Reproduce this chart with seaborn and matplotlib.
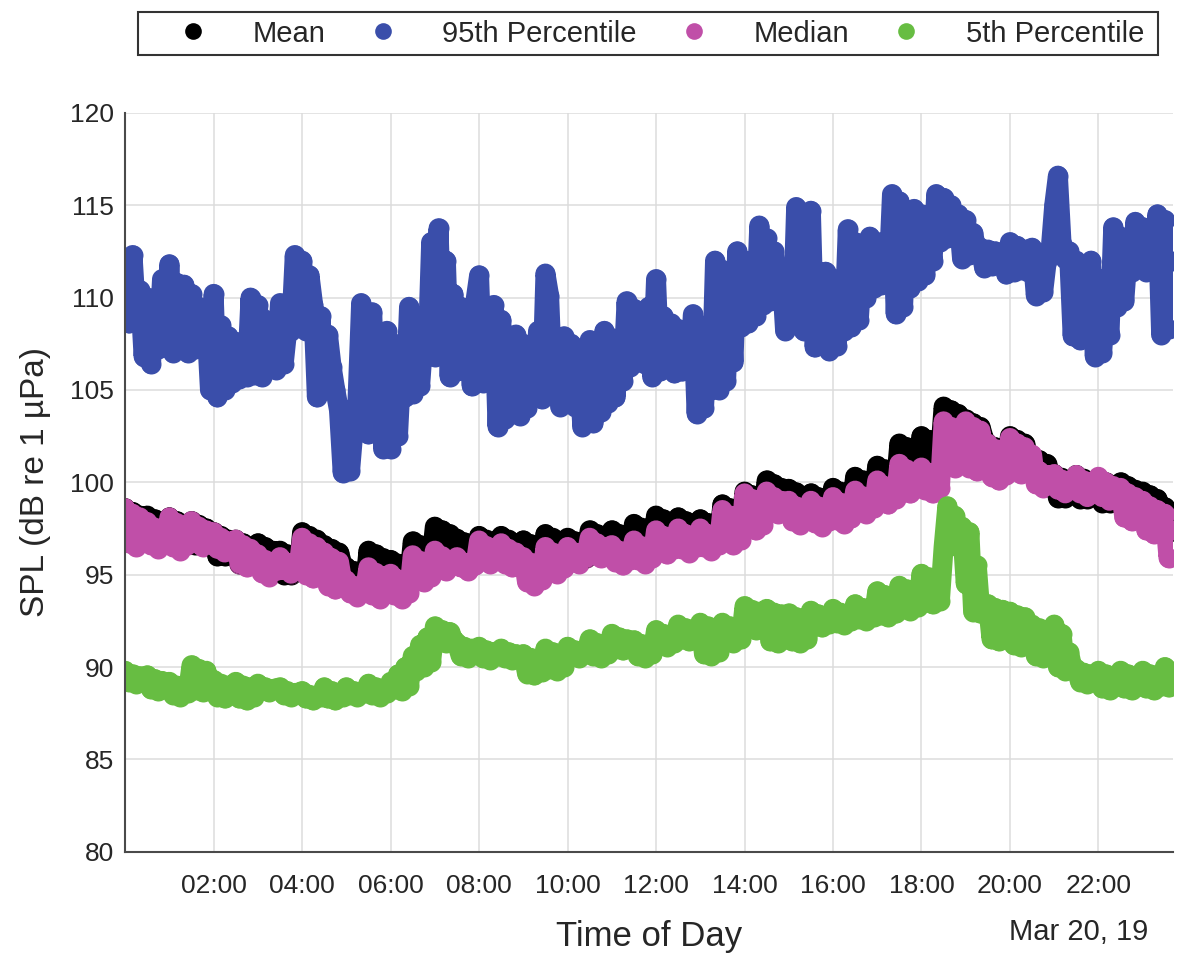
import pandas as pd
import seaborn as sns
import matplotlib.pyplot as plt
import matplotlib.dates as mdates
from matplotlib.lines import Line2D
from matplotlib.patches import Rectangle

# SPL statistics (dB re 1 uPa), 5-minute steps from 00:00 to 23:40, Mar 20 2019
# one row per hour
p95_spl = [
    112.0, 108.6, 112.3, 109.0, 110.4, 106.8, 110.0, 106.4, 109.2, 107.2, 111.0, 107.4,
    111.8, 107.0, 110.8, 107.5, 110.7, 107.0, 110.2, 107.2, 109.5, 107.6, 108.75, 105.0,
    110.2, 104.6, 108.5, 105.0, 107.9, 105.4, 107.6, 105.6, 107.2, 105.7, 110.0, 105.8,
    109.6, 105.7, 108.8, 106.2, 108.6, 106.1, 109.7, 106.4, 108.3, 108.2, 112.3, 108.4,
    112.0, 108.2, 111.2, 109.6, 104.6, 109.0, 105.0, 108.0, 106.25, 105.0, 103.9, 100.5,
    103.9, 100.6, 103.0, 104.3, 109.7, 104.5, 102.6, 109.2, 104.3, 108.0, 101.8, 108.2,
    101.8, 107.5, 102.5, 106.5, 104.6, 109.5, 104.8, 109.0, 105.2, 108.0, 106.8, 113.0,
    106.8, 113.75, 107.5, 112.0, 105.7, 110.2, 106.0, 109.5, 106.5, 108.5, 105.2, 109.8,
    111.2, 105.4, 109.0, 106.0, 109.6, 103.0, 108.8, 103.4, 107.5, 104.5, 108.0, 103.6,
    107.5, 104.0, 106.8, 104.8, 108.2, 104.5, 111.3, 110.1, 105.0, 107.5, 104.1, 107.9,
    104.5, 107.5, 104.1, 106.5, 103.0, 106.25, 107.7, 103.2, 105.8, 103.8, 108.2, 104.3,
    107.8, 104.6, 107.0, 105.5, 109.8, 106.25, 109.4, 106.5, 108.8, 106.4, 109.5, 105.7,
    111.0, 106.0, 109.0, 106.5, 108.6, 105.9, 108.3, 106.0, 108.0, 106.3, 109.1, 103.7,
    108.5, 104.0, 107.8, 105.0, 112.0, 105.0, 111.5, 105.5, 110.5, 106.5, 112.5, 108.4,
    112.0, 108.6, 111.5, 109.0, 113.9, 109.6, 113.2, 109.8, 112.5, 110.0, 111.5, 108.2,
    110.7, 108.5, 114.9, 110.0, 108.2, 110.2, 114.7, 107.3, 110.0, 107.5, 111.4, 107.1,
    111.0, 107.4, 110.5, 108.2, 113.7, 108.4, 113.0, 108.8, 112.0, 110.0, 113.3, 110.5,
    113.0, 110.7, 112.5, 111.0, 115.6, 109.1, 115.2, 109.5, 114.0, 110.5, 114.8, 110.9,
    114.5, 111.2, 113.8, 112.0, 115.6, 113.0, 115.4, 113.2, 115.0, 113.5, 114.5, 112.1,
    114.2, 112.3, 113.5, 112.5, 112.7, 111.6, 112.6, 111.7, 112.5, 111.8, 112.4, 111.25,
    113.0, 111.4, 112.8, 111.5, 112.6, 111.4, 112.7, 110.1, 112.3, 110.3, 112.0, 112.5,
    115.0, 116.6, 112.9, 112.1, 112.5, 107.9, 112.0, 107.7, 111.0, 108.5, 112.0, 106.8,
    111.0, 107.0, 110.0, 108.0, 113.8, 109.5, 113.3, 109.8, 112.5, 111.4, 114.1, 111.6,
    113.8, 111.4, 113.5, 112.0, 114.5, 108.0, 114.2, 108.3, 112.0,
]

mean_spl = [
    98.6, 97.3, 98.4, 97.3, 98.2, 97.5, 98.2, 96.9, 98.0, 96.9, 97.8, 97.1,
    98.1, 96.8, 97.9, 96.8, 97.7, 97.0, 97.9, 96.6, 97.7, 96.6, 97.5, 96.8,
    97.3, 96.0, 97.1, 96.0, 96.9, 96.2, 96.9, 95.6, 96.7, 95.6, 96.5, 95.8,
    96.7, 95.4, 96.5, 95.4, 96.3, 95.6, 96.3, 95.0, 96.1, 95.0, 95.9, 95.2,
    97.3, 96.0, 97.1, 96.0, 96.9, 96.2, 96.6, 95.3, 96.4, 95.3, 96.2, 95.5,
    95.4, 94.1, 95.2, 94.1, 95.0, 94.3, 96.3, 95.0, 96.1, 95.0, 95.9, 95.2,
    95.8, 94.5, 95.6, 94.5, 95.4, 94.7, 96.8, 95.5, 96.6, 95.5, 96.4, 95.7,
    97.6, 96.3, 97.4, 96.3, 97.2, 96.5, 96.95, 95.65, 96.75, 95.65, 96.55, 95.85,
    97.1, 95.8, 96.9, 95.8, 96.7, 96.0, 97.1, 95.8, 96.9, 95.8, 96.7, 96.0,
    96.85, 95.55, 96.65, 95.55, 96.45, 95.75, 97.2, 95.9, 97.0, 95.9, 96.8, 96.1,
    97.0, 95.7, 96.8, 95.7, 96.6, 95.9, 97.4, 96.1, 97.2, 96.1, 97.0, 96.3,
    97.4, 96.1, 97.2, 96.1, 97.0, 96.3, 97.75, 96.45, 97.55, 96.45, 97.35, 96.65,
    98.2, 96.9, 98.0, 96.9, 97.8, 97.1, 98.1, 96.8, 97.9, 96.8, 97.7, 97.0,
    98.0, 96.7, 97.8, 96.7, 97.6, 96.9, 98.8, 97.5, 98.6, 97.5, 98.4, 97.7,
    99.5, 98.2, 99.3, 98.2, 99.1, 98.4, 100.1, 98.8, 99.9, 98.8, 99.7, 99.0,
    99.65, 98.35, 99.45, 98.35, 99.25, 98.55, 99.4, 98.1, 99.2, 98.1, 99.0, 98.3,
    99.7, 98.4, 99.5, 98.4, 99.3, 98.6, 100.3, 99.0, 100.1, 99.0, 99.9, 99.2,
    100.9, 99.6, 100.7, 99.6, 100.5, 99.8, 102.1, 100.8, 101.9, 100.8, 101.7, 101.0,
    102.5, 101.2, 102.3, 101.2, 102.1, 101.4, 104.1, 102.8, 103.9, 102.8, 103.7, 103.0,
    103.4, 102.1, 103.2, 102.1, 103.0, 102.3, 102.1, 100.8, 101.9, 100.8, 101.7, 101.0,
    102.5, 101.2, 102.3, 101.2, 102.1, 101.4, 101.4, 100.1, 101.2, 100.1, 101.0, 100.3,
    100.45, 99.15, 100.25, 99.15, 100.05, 99.35, 100.4, 99.1, 100.2, 99.1, 100.0, 99.3,
    100.2, 98.9, 100.0, 98.9, 99.8, 99.1, 100.0, 98.7, 99.8, 98.7, 99.6, 98.9,
    99.5, 98.2, 99.3, 98.2, 99.1, 98.4, 98.65, 97.3, 98.4,
]

median_spl = [
    98.6, 96.7, 98.3, 96.5, 98.1, 96.8, 97.85, 96.6, 97.55, 96.4, 97.35, 96.7,
    98.1, 96.5, 97.8, 96.3, 97.6, 96.6, 97.9, 96.7, 97.6, 96.5, 97.4, 96.8,
    97.3, 96.4, 97.0, 96.2, 96.8, 96.5, 96.9, 95.6, 96.6, 95.4, 96.4, 95.7,
    96.1, 95.1, 95.8, 94.9, 95.6, 95.2, 95.95, 95.25, 95.65, 95.05, 95.45, 95.35,
    97.0, 95.0, 96.7, 94.8, 96.5, 95.1, 96.2, 94.4, 95.9, 94.2, 95.7, 94.5,
    94.7, 94.0, 94.4, 93.8, 94.2, 94.1, 95.4, 93.9, 95.1, 93.7, 94.9, 94.0,
    95.05, 93.9, 94.75, 93.7, 94.55, 94.0, 96.05, 94.8, 95.75, 94.6, 95.55, 94.9,
    96.3, 95.4, 96.0, 95.2, 95.8, 95.5, 95.95, 95.4, 95.65, 95.2, 95.45, 95.5,
    96.85, 95.8, 96.55, 95.6, 96.35, 95.9, 96.7, 95.6, 96.4, 95.4, 96.2, 95.7,
    95.95, 94.6, 95.65, 94.4, 95.45, 94.7, 96.5, 95.25, 96.2, 95.05, 96.0, 95.35,
    96.5, 95.8, 96.2, 95.6, 96.0, 95.9, 97.0, 96.1, 96.7, 95.9, 96.5, 96.2,
    96.6, 95.7, 96.3, 95.5, 96.1, 95.8, 96.85, 95.8, 96.55, 95.6, 96.35, 95.9,
    97.4, 96.3, 97.1, 96.1, 96.9, 96.4, 97.5, 96.4, 97.2, 96.2, 97.0, 96.5,
    97.5, 96.5, 97.2, 96.3, 97.0, 96.6, 98.5, 96.8, 98.2, 96.6, 98.0, 96.9,
    99.4, 97.6, 99.1, 97.4, 98.9, 97.7, 99.5, 98.5, 99.2, 98.3, 99.0, 98.6,
    99.0, 97.9, 98.7, 97.7, 98.5, 98.0, 99.0, 97.8, 98.7, 97.6, 98.5, 97.9,
    99.2, 97.95, 98.9, 97.75, 98.7, 98.05, 99.55, 98.5, 99.25, 98.3, 99.05, 98.6,
    100.1, 99.0, 99.8, 98.8, 99.6, 99.1, 101.0, 99.6, 100.7, 99.4, 100.5, 99.7,
    100.8, 99.6, 100.5, 99.4, 100.3, 99.7, 103.3, 101.0, 103.0, 100.8, 102.8, 101.1,
    103.3, 100.8, 103.0, 100.6, 102.8, 100.9, 102.1, 100.3, 101.8, 100.1, 101.6, 100.4,
    102.4, 100.65, 102.1, 100.45, 101.9, 100.75, 101.5, 99.9, 100.6, 99.7, 100.4, 100.0,
    100.45, 99.6, 100.15, 99.4, 99.95, 99.7, 100.4, 99.4, 100.1, 99.2, 99.9, 99.5,
    100.3, 99.2, 100.0, 99.0, 99.8, 99.3, 99.7, 98.1, 99.4, 97.9, 99.2, 98.2,
    99.0, 97.4, 98.7, 97.2, 98.5, 97.5, 98.3, 95.9, 97.4,
]

p5_spl = [
    89.8, 89.2, 89.6, 89.1, 89.5, 89.3, 89.55, 88.8, 89.35, 88.7, 89.25, 88.9,
    89.2, 88.5, 89.0, 88.4, 88.9, 88.6, 90.1, 88.75, 89.9, 88.65, 89.8, 88.85,
    89.3, 88.4, 89.1, 88.3, 89.0, 88.5, 89.2, 88.3, 89.0, 88.2, 88.9, 88.4,
    89.1, 88.75, 88.9, 88.65, 88.8, 88.85, 88.9, 88.5, 88.7, 88.4, 88.6, 88.6,
    88.7, 88.3, 88.5, 88.2, 88.4, 88.4, 88.9, 88.3, 88.7, 88.2, 88.6, 88.4,
    88.9, 88.5, 88.7, 88.4, 88.6, 88.6, 89.1, 88.5, 88.9, 88.4, 88.8, 88.6,
    89.2, 88.8, 89.6, 88.7, 90.0, 89.0, 90.6, 89.8, 91.2, 90.0, 91.6, 90.3,
    92.2, 91.4, 92.0, 91.3, 91.9, 91.5, 91.3, 90.6, 91.1, 90.5, 91.0, 90.7,
    91.1, 90.5, 90.9, 90.4, 90.8, 90.6, 91.0, 90.5, 90.8, 90.4, 90.7, 90.6,
    90.7, 89.65, 90.5, 89.55, 90.4, 89.75, 91.0, 89.9, 90.8, 89.8, 90.7, 90.0,
    91.1, 90.6, 90.9, 90.5, 90.8, 90.7, 91.5, 90.6, 91.3, 90.5, 91.2, 90.7,
    91.8, 91.0, 91.6, 90.9, 91.5, 91.1, 91.45, 90.6, 91.25, 90.5, 91.15, 90.7,
    92.0, 91.2, 91.8, 91.1, 91.7, 91.3, 92.3, 91.5, 92.1, 91.4, 92.0, 91.6,
    92.4, 90.7, 92.2, 90.6, 92.1, 90.8, 92.4, 91.4, 92.2, 91.3, 92.1, 91.5,
    93.3, 92.1, 93.1, 92.0, 93.0, 92.2, 93.15, 91.4, 92.95, 91.3, 92.85, 91.5,
    92.9, 91.4, 92.7, 91.3, 92.6, 91.5, 93.05, 92.25, 92.85, 92.15, 92.75, 92.35,
    93.15, 92.4, 92.95, 92.3, 92.85, 92.5, 93.4, 92.6, 93.2, 92.5, 93.1, 92.7,
    94.1, 92.8, 93.9, 92.7, 93.8, 92.9, 94.4, 93.15, 94.2, 93.05, 94.1, 93.25,
    95.05, 93.5, 94.85, 93.4, 94.75, 93.6, 96.5, 98.7, 96.6, 98.2, 96.5, 97.6,
    94.5, 97.3, 93.0, 95.5, 92.9, 93.4, 93.4, 91.5, 93.2, 91.4, 93.1, 91.6,
    93.0, 91.2, 92.8, 91.1, 92.7, 91.3, 92.3, 90.6, 92.1, 90.5, 92.0, 90.7,
    92.3, 90.0, 91.8, 89.8, 90.8, 89.9, 89.9, 89.2, 89.7, 89.1, 89.6, 89.3,
    89.8, 88.85, 89.6, 88.75, 89.5, 88.95, 89.8, 88.85, 89.6, 88.75, 89.5, 88.95,
    89.8, 88.85, 89.6, 88.75, 89.5, 88.95, 90.0, 88.9, 89.8,
]

stat_names = ["Mean", "95th Percentile", "Median", "5th Percentile"]
stat_colors = ["#000000", "#3a4eaa", "#c04fa8", "#67bd42"]

times = pd.date_range("2019-03-20 00:00", periods=len(mean_spl), freq="5min")

# long table, rows in drawing order (mean at the back)
frames = []
for name, vals in zip(stat_names, [mean_spl, p95_spl, median_spl, p5_spl]):
    frames.append(pd.DataFrame({"time": times, "spl": vals, "stat": name}))
df = pd.concat(frames, ignore_index=True)

sns.set_style("whitegrid")
plt.rcParams["font.family"] = ["Liberation Sans", "DejaVu Sans"]

W, H = 1192, 956
fig = plt.figure(figsize=(W / 100, H / 100), dpi=100)
ax = fig.add_axes([0.105, 0.109, 0.879, 0.773])

dot_pt = 14.4  # ~20 px wide markers
for name, color in zip(stat_names, stat_colors):
    sub = df[df["stat"] == name]
    # the samples are so dense in the original that they merge into a band
    sns.lineplot(data=sub, x="time", y="spl", color=color, linewidth=dot_pt,
                 estimator=None, sort=False, solid_capstyle="round",
                 solid_joinstyle="round", ax=ax)
    sns.scatterplot(data=sub, x="time", y="spl", color=color, s=dot_pt ** 2,
                    linewidth=0, ax=ax)

ax.set_ylim(80, 120)
ax.set_yticks(range(80, 121, 5))
ax.set_xlim(pd.Timestamp("2019-03-20 00:00"), pd.Timestamp("2019-03-20 23:41"))
ax.xaxis.set_major_locator(mdates.HourLocator(byhour=range(2, 24, 2)))
ax.xaxis.set_major_formatter(mdates.DateFormatter("%H:%M"))

ax.grid(True, color="#dcdcdc", linewidth=1.1)
ax.set_axisbelow(True)
for side in ["top", "right"]:
    ax.spines[side].set_visible(False)
for side in ["left", "bottom"]:
    ax.spines[side].set_color("#4a4a4a")
    ax.spines[side].set_linewidth(1.5)
ax.tick_params(axis="both", direction="in", length=7, width=1.2, color="#4a4a4a",
               labelsize=19, labelcolor="#262626")
ax.tick_params(axis="x", pad=16)
ax.tick_params(axis="y", pad=8)

ax.set_xlabel("Time of Day", fontsize=25, color="#262626", labelpad=16)
ax.set_ylabel("SPL (dB re 1 µPa)", fontsize=24, color="#262626", labelpad=14)
fig.text(0.963, 0.025, "Mar 20, 19", ha="right", va="center",
         fontsize=21, color="#262626")

# legend box above the axes
fig.patches.append(Rectangle((138 / W, 1 - 55 / H), 1020 / W, 43 / H,
                             transform=fig.transFigure, facecolor="white",
                             edgecolor="#333333", linewidth=1.5))
handles = [Line2D([0], [0], marker="o", linestyle="none", markersize=12,
                  markerfacecolor=c, markeredgewidth=0) for c in stat_colors]
leg = fig.legend(handles, stat_names, loc="center left",
                 bbox_to_anchor=(142 / W, 1 - 33.5 / H), ncol=4, frameon=False,
                 fontsize=21, handletextpad=1.05, columnspacing=0.95,
                 borderpad=0.25)
for t in leg.get_texts():
    t.set_color("#262626")

fig.savefig("out.png", dpi=100, facecolor="white")
